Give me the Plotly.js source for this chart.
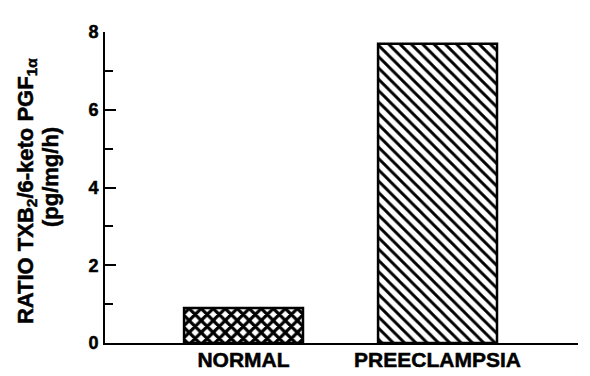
<!DOCTYPE html>
<html>
<head>
<meta charset="utf-8">
<script src="https://cdn.plot.ly/plotly-3.0.1.min.js"></script>
<style>
  html, body { margin: 0; padding: 0; background: #fff; }
  #chart { width: 590px; height: 376px; }
  /* heavier lettering for all chart text */
  #chart svg text { stroke: #000; stroke-width: 0.5px; }
</style>
</head>
<body>
<div id="chart"></div>
<script>
// Group labels and the TXB2 / 6-keto PGF1α ratio for each group
const groups = ['NORMAL', 'PREECLAMPSIA'];
const ratios = [0.9, 7.7];
const hatchShapes = ['x', '\\'];
const hatchSizes = [8.5, 8];
const hatchSolidity = [0.6, 0.36];

// Y axis ticks
const yTickVals = [0, 2, 4, 6, 8];
const yTickText = ['0', '2', '4', '6', '8'];

const FONT = '"Liberation Sans", Arial, Helvetica, sans-serif';

const trace = {
  type: 'bar',
  x: groups,
  y: ratios,
  width: 0.613,
  marker: {
    color: 'white',
    line: { color: 'black', width: 2.5 },
    pattern: {
      shape: hatchShapes,
      size: hatchSizes,
      solidity: hatchSolidity,
      fgcolor: 'black',
      bgcolor: 'white',
      fillmode: 'replace'
    }
  },
  hoverinfo: 'skip'
};

const layout = {
  width: 590,
  height: 376,
  margin: { l: 105, r: 12, t: 32, b: 33 },
  paper_bgcolor: 'white',
  plot_bgcolor: 'white',
  showlegend: false,
  font: { family: FONT, color: 'black', size: 16, weight: 700 },
  xaxis: {
    type: 'category',
    range: [-0.714, 1.724],
    showline: true,
    linecolor: 'black',
    linewidth: 2,
    ticks: '',
    showgrid: false,
    zeroline: false,
    tickfont: { family: FONT, size: 21, weight: 700, color: 'black' },
    ticklabelstandoff: -3
  },
  yaxis: {
    range: [0, 8],
    showline: true,
    linecolor: 'black',
    linewidth: 2,
    ticks: 'inside',
    ticklen: 11,
    tickwidth: 2,
    tickcolor: 'black',
    tickvals: yTickVals,
    ticktext: yTickText,
    minor: { dtick: 1, ticks: 'inside', ticklen: 8, tickwidth: 2, tickcolor: 'black', showgrid: false },
    showgrid: false,
    zeroline: false,
    tickfont: { family: FONT, size: 18, weight: 700, color: 'black' },
    ticklabelstandoff: 1
  },
  annotations: [
    {
      text: 'RATIO TXB<sub>2</sub>/6-keto PGF<sub>1α</sub>',
      xref: 'paper', yref: 'paper',
      x: -0.166, y: 0.49,
      xanchor: 'center', yanchor: 'middle',
      textangle: -90,
      showarrow: false,
      font: { family: FONT, size: 22, weight: 700, color: 'black' }
    },
    {
      text: '(pg/mg/h)',
      xref: 'paper', yref: 'paper',
      x: -0.114, y: 0.534,
      xanchor: 'center', yanchor: 'middle',
      textangle: -90,
      showarrow: false,
      font: { family: FONT, size: 22, weight: 700, color: 'black' }
    }
  ]
};

Plotly.newPlot('chart', [trace], layout, { staticPlot: true, displayModeBar: false });
</script>
</body>
</html>
